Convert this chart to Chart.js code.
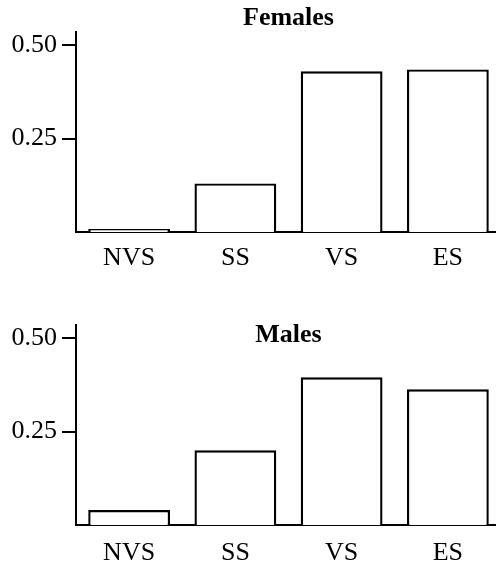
<!DOCTYPE html>
<html>
<head>
<meta charset="utf-8">
<script src="https://cdn.jsdelivr.net/npm/chart.js@4/dist/chart.umd.min.js"></script>
<style>
  html, body { margin: 0; padding: 0; background: #fff; overflow: hidden; }
  body { width: 496px; height: 567px; }
  .panel { position: relative; width: 501px; }
  canvas { display: block; }
</style>
</head>
<body>
<div class="panel" style="height:293px"><canvas id="females"></canvas></div>
<div class="panel" style="height:274px"><canvas id="males"></canvas></div>
<script>
const categories = ['NVS', 'SS', 'VS', 'ES'];
const femaleValues = [0.008, 0.13, 0.43, 0.435];
const maleValues = [0.04, 0.2, 0.395, 0.363];
const yTicks = [0.25, 0.5];
const yTickLabels = ['0.25', '0.50'];

const serif = '"Liberation Serif", "DejaVu Serif", serif';

// title drawn at a fixed height, the lower one sits inside the plot
const panelTitle = {
  id: 'panelTitle',
  afterDraw(chart, args, opts) {
    const { ctx, chartArea } = chart;
    ctx.save();
    ctx.font = 'bold 26px ' + serif;
    ctx.fillStyle = '#000';
    ctx.textAlign = 'center';
    ctx.textBaseline = 'middle';
    ctx.fillText(opts.text, (chartArea.left + chartArea.right) / 2, opts.y);
    ctx.restore();
  }
};

function makePanel(id, title, titleY, values, xHeight, labelPad) {
  return new Chart(document.getElementById(id), {
    type: 'bar',
    data: {
      labels: categories,
      datasets: [{
        data: values,
        backgroundColor: '#fff',
        borderColor: '#000',
        borderWidth: 2.4,
        barPercentage: 0.77,
        categoryPercentage: 1
      }]
    },
    options: {
      responsive: true,
      maintainAspectRatio: false,
      animation: false,
      events: [],
      layout: { padding: { top: 32, right: 0, left: 0, bottom: 0 } },
      plugins: {
        legend: { display: false },
        tooltip: { enabled: false },
        panelTitle: { text: title, y: titleY }
      },
      scales: {
        x: {
          z: 1,
          grid: { drawOnChartArea: false, drawTicks: false },
          border: { color: '#000', width: 2 },
          ticks: { color: '#000', padding: labelPad, font: { family: serif, size: 26 } },
          afterFit(scale) { scale.height = xHeight; }
        },
        y: {
          min: 0,
          max: 0.535,
          afterBuildTicks(scale) { scale.ticks = yTicks.map(v => ({ value: v })); },
          grid: { drawOnChartArea: false, drawTicks: true, tickLength: 14, color: '#000', lineWidth: 2 },
          border: { color: '#000', width: 2 },
          ticks: {
            color: '#000',
            padding: 5,
            font: { family: serif, size: 26 },
            callback: (v) => yTickLabels[yTicks.indexOf(v)]
          },
          afterFit(scale) { scale.width = 76; }
        }
      }
    },
    plugins: [panelTitle]
  });
}

makePanel('females', 'Females', 18, femaleValues, 61, 11);
makePanel('males', 'Males', 42, maleValues, 42, 13);
</script>
</body>
</html>
